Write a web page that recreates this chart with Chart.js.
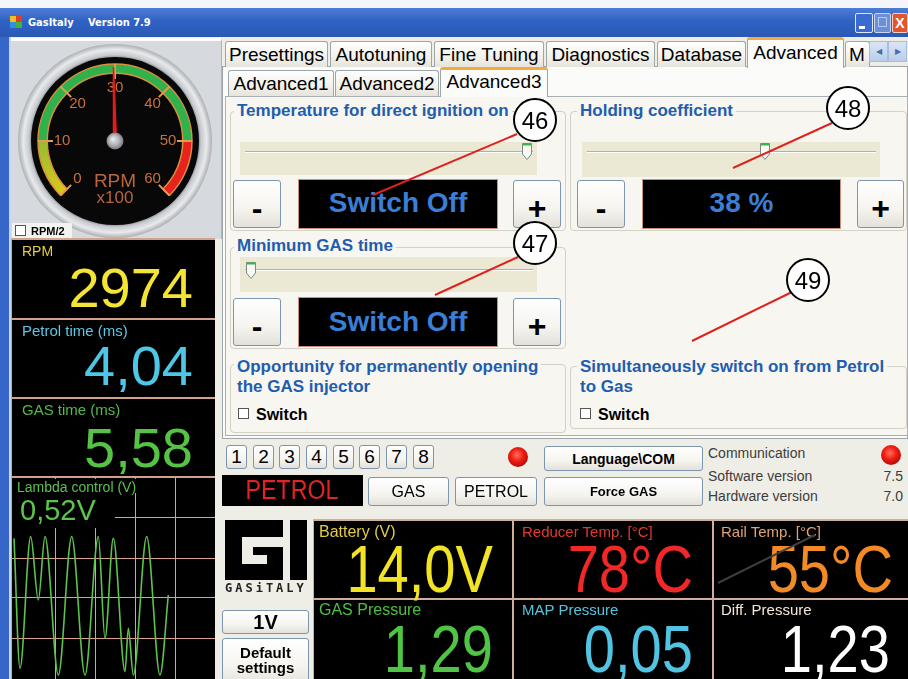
<!DOCTYPE html>
<html><head><meta charset="utf-8">
<title>GasItaly Version 7.9</title>
<script src="https://cdn.jsdelivr.net/npm/chart.js@4.4.1/dist/chart.umd.min.js"></script>
<style>
*{box-sizing:border-box}
html,body{margin:0;padding:0}
body{width:908px;height:679px;overflow:hidden;position:relative;background:#efeee6;font-family:'Liberation Sans',Arial,sans-serif;color:#000}
.a{position:absolute}
.btn{position:absolute;background:linear-gradient(#ffffff,#f5f4ef 60%,#e3e1d9);border:1px solid #7d95ae;border-radius:3px;display:flex;align-items:center;justify-content:center;color:#000;white-space:nowrap}
.pm{font-weight:bold;font-size:32px;line-height:32px;padding-top:8px}
.tab{position:absolute;top:41px;height:26px;padding-top:3px;border:1px solid #9ca6aa;border-bottom:none;border-radius:3px 3px 0 0;background:linear-gradient(#fefefe,#f3f2ec 55%,#e6e4dc);font-size:19px;line-height:19px;text-align:center;white-space:nowrap;overflow:hidden}
.tab.sel{top:37px;height:31px;padding-top:3px;background:#fbfbf9;border-top:3px solid #f2ac3c;z-index:3}
.tab.sub{top:70px;height:26px}
.tab.sub.sel{top:67px;height:30px;padding-top:2px}
.grp{position:absolute;border:1px solid #d3d2c6;border-radius:4px}
.gt{position:absolute;color:#1f5daf;font-weight:bold;font-size:17px;line-height:20px;background:#f7f6f1;padding:0 3px;white-space:nowrap}
.sl{position:absolute;background:#ebe9d4}
.disp{position:absolute;background:#000;border:1px solid #c8907a;color:#3b7ed6;font-weight:bold;font-size:28px;line-height:28px;text-align:center;white-space:nowrap}
.cell{position:absolute;background:#000;overflow:hidden}
.lab{position:absolute;font-size:15px;line-height:15px;white-space:nowrap}
.val{position:absolute;text-align:right;white-space:nowrap;font-size:56px;line-height:56px}
.val2{position:absolute;text-align:right;white-space:nowrap;font-size:66px;line-height:56px;transform:scaleX(0.85);transform-origin:right center}
.chk{position:absolute;width:11px;height:11px;border:1px solid #555;background:#fff}
.cbt{position:absolute;font-weight:bold;font-size:16px;line-height:16px}
.dig{top:445px;width:21px;height:24px;font-size:19px}
.led{position:absolute;width:20px;height:20px;border-radius:50%;background:radial-gradient(circle at 45% 40%,#ff7060 0,#f01c12 40%,#b00c08 75%,#703828 100%)}
.info{position:absolute;font-size:14px;line-height:14px;color:#3c3c3c;white-space:nowrap}
</style></head>
<body>
<!-- title bar -->
<div class="a" style="left:0;top:0;width:908px;height:8px;background:#f4f6fa"></div>
<div class="a" style="left:0;top:8px;width:908px;height:29px;background:linear-gradient(#4d7dd4,#3062c4 45%,#2b58b6)"></div>
<div class="a" style="left:10px;top:16px;width:6px;height:6px;background:#f0c020"></div>
<div class="a" style="left:16px;top:16px;width:6px;height:6px;background:#e04020"></div>
<div class="a" style="left:10px;top:22px;width:6px;height:6px;background:#3090e0"></div>
<div class="a" style="left:16px;top:22px;width:6px;height:6px;background:#40b040"></div>
<div class="a" style="left:28px;top:16px;color:#fff;font:bold 11px 'DejaVu Sans Condensed','Liberation Sans Narrow',sans-serif">GasItaly</div>
<div class="a" style="left:88px;top:16px;color:#fff;font:bold 11px 'DejaVu Sans Condensed','Liberation Sans Narrow',sans-serif">Version 7.9</div>
<div class="a" style="left:855px;top:13px;width:18px;height:20px;background:#3a6bd2;border:1px solid #dfe8f8;border-radius:2px"></div>
<div class="a" style="left:859px;top:26px;width:6px;height:3px;background:#fff"></div>
<div class="a" style="left:874px;top:13px;width:17px;height:20px;background:#6a90da;border:1px solid #c8d6f0;border-radius:2px"></div>
<div class="a" style="left:878px;top:17px;width:9px;height:10px;border:1px solid #b8c8ea"></div>
<div class="a" style="left:892px;top:13px;width:16px;height:20px;background:#e2552e;border:1px solid #f4d0c4;border-radius:2px;color:#fff;font:bold 14px 'Liberation Sans';line-height:18px;text-align:center">X</div>

<!-- left frame -->
<div class="a" style="left:0;top:37px;width:9px;height:642px;background:#3566c8"></div>
<div class="a" style="left:9px;top:37px;width:2px;height:642px;background:#c8d4ea"></div>

<!-- gauge panel -->
<div class="a" style="left:11px;top:38px;width:211px;height:201px;background:#d6dadf;border-top:3px solid #fff;border-right:1px solid #b0b4b8"></div>
<canvas id="gauge" class="a" width="200" height="200" style="left:15px;top:41px"></canvas>
<div class="a" style="left:12px;top:223px;width:60px;height:15px;background:#f2f2f0"></div>
<div class="chk" style="left:15px;top:225px"></div>
<div class="a" style="left:31px;top:225px;font:bold 11px 'Liberation Sans';line-height:12px">RPM/2</div>

<!-- left readouts -->
<div class="a" style="left:11px;top:238px;width:204px;height:441px;background:#d4a28c"></div>
<div class="cell" style="left:12px;top:240px;width:203px;height:78px"></div>
<div class="cell" style="left:12px;top:320px;width:203px;height:77px"></div>
<div class="cell" style="left:12px;top:399px;width:203px;height:77px"></div>
<div class="cell" style="left:12px;top:478px;width:203px;height:201px"></div>
<div class="lab" style="left:22px;top:244px;font-size:14px;color:#e6cc40">RPM</div>
<div class="val" style="left:12px;top:260px;width:181px;color:#f4e434">2974</div>
<div class="lab" style="left:22px;top:323px;color:#5ec8e2">Petrol time (ms)</div>
<div class="val" style="left:12px;top:338px;width:181px;color:#4ec6e6">4,04</div>
<div class="lab" style="left:22px;top:402px;color:#54ba48">GAS time (ms)</div>
<div class="val" style="left:12px;top:420px;width:181px;color:#56c246">5,58</div>
<canvas id="lambda" class="a" width="203" height="201" style="left:12px;top:478px"></canvas>
<div class="a" style="left:12px;top:479px;width:126px;height:14px;background:#000"></div>
<div class="lab" style="left:17px;top:480px;font-size:14px;line-height:14px;color:#5cc050">Lambda control (V)</div>
<div class="a" style="left:12px;top:493px;width:103px;height:35px;background:#000"></div>
<div class="a" style="left:20px;top:496px;font-size:29px;line-height:29px;color:#5cc44c;white-space:nowrap">0,52V</div>

<!-- tabs -->
<div class="a" style="left:222px;top:66px;width:686px;height:373px;background:#fbfbf9;border:1px solid #9ca6aa"></div>
<div class="tab" style="left:225px;width:103px">Presettings</div>
<div class="tab" style="left:330px;width:102px">Autotuning</div>
<div class="tab" style="left:434px;width:110px">Fine Tuning</div>
<div class="tab" style="left:546px;width:109px">Diagnostics</div>
<div class="tab" style="left:657px;width:89px">Database</div>
<div class="tab sel" style="left:747px;width:97px">Advanced</div>
<div class="tab" style="left:845px;width:25px;text-align:left;padding-left:3px">M</div>
<div class="a" style="left:869px;top:41px;width:19px;height:21px;background:linear-gradient(#dbe6f6,#b8cdea);border:1px solid #a8bcdc;color:#4a6ca8;font-size:8px;line-height:19px;text-align:center">&#9664;</div>
<div class="a" style="left:888px;top:41px;width:19px;height:21px;background:linear-gradient(#dbe6f6,#b8cdea);border:1px solid #a8bcdc;color:#4a6ca8;font-size:8px;line-height:19px;text-align:center">&#9654;</div>

<div class="a" style="left:225px;top:96px;width:683px;height:340px;background:#f7f6f1;border:1px solid #a8b0b4"></div>
<div class="tab sub" style="left:228px;width:106px">Advanced1</div>
<div class="tab sub" style="left:335px;width:104px">Advanced2</div>
<div class="tab sub sel" style="left:440px;width:108px">Advanced3</div>

<!-- group 1 -->
<div class="grp" style="left:230px;top:111px;width:336px;height:120px"></div>
<div class="gt" style="left:234px;top:101px">Temperature for direct ignition on</div>
<div class="sl" style="left:240px;top:142px;width:297px;height:33px"></div>
<div class="btn pm" style="left:233px;top:180px;width:48px;height:48px">-</div>
<div class="disp" style="left:298px;top:179px;width:200px;height:50px;padding-top:9px">Switch Off</div>
<div class="btn pm" style="left:513px;top:180px;width:48px;height:48px">+</div>

<!-- group 2 -->
<div class="grp" style="left:230px;top:247px;width:336px;height:102px"></div>
<div class="gt" style="left:234px;top:236px">Minimum GAS time</div>
<div class="sl" style="left:240px;top:257px;width:297px;height:35px"></div>
<div class="btn pm" style="left:233px;top:298px;width:48px;height:48px">-</div>
<div class="disp" style="left:298px;top:297px;width:200px;height:50px;padding-top:10px">Switch Off</div>
<div class="btn pm" style="left:513px;top:298px;width:48px;height:48px">+</div>

<!-- group 3 -->
<div class="grp" style="left:230px;top:364px;width:336px;height:69px"></div>
<div class="gt" style="left:234px;top:357px">Opportunity for permanently opening<br>the GAS injector</div>
<div class="chk" style="left:238px;top:408px"></div>
<div class="cbt" style="left:256px;top:407px">Switch</div>

<!-- group 4 -->
<div class="grp" style="left:570px;top:111px;width:337px;height:120px"></div>
<div class="gt" style="left:577px;top:101px">Holding coefficient</div>
<div class="sl" style="left:582px;top:142px;width:298px;height:35px"></div>
<div class="btn pm" style="left:577px;top:180px;width:48px;height:48px">-</div>
<div class="disp" style="left:642px;top:179px;width:199px;height:50px;padding-top:9px">38 %</div>
<div class="btn pm" style="left:857px;top:180px;width:47px;height:48px">+</div>

<!-- group 5 -->
<div class="grp" style="left:570px;top:366px;width:337px;height:63px"></div>
<div class="gt" style="left:577px;top:357px">Simultaneously switch on from Petrol<br>to Gas</div>
<div class="chk" style="left:580px;top:408px"></div>
<div class="cbt" style="left:598px;top:407px">Switch</div>

<!-- status area -->
<div class="btn dig" style="left:226px">1</div>
<div class="btn dig" style="left:253px">2</div>
<div class="btn dig" style="left:279px">3</div>
<div class="btn dig" style="left:306px">4</div>
<div class="btn dig" style="left:333px">5</div>
<div class="btn dig" style="left:359px">6</div>
<div class="btn dig" style="left:386px">7</div>
<div class="btn dig" style="left:413px">8</div>
<div class="led" style="left:508px;top:447px"></div>
<div class="btn" style="left:544px;top:446px;width:159px;height:25px;font-weight:bold;font-size:14px">Language\COM</div>
<div class="info" style="left:708px;top:446px">Communication</div>
<div class="led" style="left:881px;top:445px"></div>
<div class="info" style="left:708px;top:469px">Software version</div>
<div class="info" style="left:860px;top:469px;width:43px;text-align:right">7.5</div>
<div class="info" style="left:708px;top:489px">Hardware version</div>
<div class="info" style="left:860px;top:489px;width:43px;text-align:right">7.0</div>
<div class="a" style="left:222px;top:475px;width:141px;height:31px;background:#000;display:flex;align-items:center;justify-content:center"><span style="color:#e42424;font-size:27px;line-height:27px;transform:scaleX(0.86);display:inline-block">PETROL</span></div>
<div class="btn" style="left:368px;top:477px;width:81px;height:29px;font-size:16px">GAS</div>
<div class="btn" style="left:455px;top:477px;width:82px;height:29px;font-size:16px">PETROL</div>
<div class="btn" style="left:544px;top:477px;width:159px;height:29px;font-weight:bold;font-size:13px">Force GAS</div>

<!-- logo + buttons -->
<div class="a" style="left:225px;top:520px;width:58px;height:60px;background:#000"></div>
<div class="a" style="left:242px;top:537px;width:41px;height:10px;background:#efeee6"></div>
<div class="a" style="left:242px;top:547px;width:11px;height:8px;background:#efeee6"></div>
<div class="a" style="left:242px;top:555px;width:25px;height:9px;background:#efeee6"></div>
<div class="a" style="left:290px;top:520px;width:17px;height:60px;background:#000"></div>
<div class="a" style="left:225px;top:582px;font:bold 12px 'DejaVu Sans Mono',monospace;letter-spacing:3px;line-height:12px;color:#222">GASiTALY</div>
<div class="btn" style="left:222px;top:610px;width:87px;height:24px;font-weight:bold;font-size:20px">1V</div>
<div class="btn" style="left:222px;top:638px;width:87px;height:48px;font-weight:bold;font-size:15px;line-height:15px;text-align:center;align-items:flex-start;padding-top:6px">Default<br>settings</div>

<!-- bottom readouts -->
<div class="a" style="left:313px;top:519px;width:595px;height:160px;background:#cfae9c"></div>
<div class="cell" style="left:314px;top:521px;width:198px;height:77px"></div>
<div class="cell" style="left:514px;top:521px;width:198px;height:77px"></div>
<div class="cell" style="left:714px;top:521px;width:194px;height:77px"></div>
<div class="cell" style="left:314px;top:600px;width:198px;height:79px"></div>
<div class="cell" style="left:514px;top:600px;width:198px;height:79px"></div>
<div class="cell" style="left:714px;top:600px;width:194px;height:79px"></div>
<div class="lab" style="left:319px;top:524px;font-size:16px;line-height:16px;color:#e6cc44">Battery (V)</div>
<div class="val2" style="left:313px;top:541px;width:180px;color:#f2e424">14,0V</div>
<div class="lab" style="left:522px;top:524px;color:#e23a30">Reducer Temp. [°C]</div>
<div class="val2" style="left:513px;top:541px;width:180px;color:#f02828">78°C</div>
<div class="lab" style="left:721px;top:524px;color:#e2a272">Rail Temp. [°C]</div>
<div class="val2" style="left:713px;top:541px;width:180px;color:#f28a26">55°C</div>
<div class="lab" style="left:319px;top:602px;font-size:16px;line-height:16px;color:#4cc040">GAS Pressure</div>
<div class="val2" style="left:313px;top:621px;width:180px;color:#50c444">1,29</div>
<div class="lab" style="left:522px;top:602px;color:#58c4dc">MAP Pressure</div>
<div class="val2" style="left:513px;top:621px;width:180px;color:#50c4e2">0,05</div>
<div class="lab" style="left:721px;top:602px;color:#f4e6da">Diff. Pressure</div>
<div class="val2" style="left:710px;top:621px;width:180px;color:#ffffff">1,23</div>

<!-- sliders, callouts -->
<svg class="a" style="left:0;top:0;z-index:20;pointer-events:none" width="908" height="679" viewBox="0 0 908 679">
  <g>
    <line x1="245" y1="151.5" x2="533" y2="151.5" stroke="#a4b2bc" stroke-width="1"/>
    <line x1="245" y1="152.5" x2="533" y2="152.5" stroke="#ffffff" stroke-width="1"/>
    <line x1="245" y1="269.5" x2="533" y2="269.5" stroke="#a4b2bc" stroke-width="1"/>
    <line x1="245" y1="270.5" x2="533" y2="270.5" stroke="#ffffff" stroke-width="1"/>
    <line x1="587" y1="151.5" x2="876" y2="151.5" stroke="#a4b2bc" stroke-width="1"/>
    <line x1="587" y1="152.5" x2="876" y2="152.5" stroke="#ffffff" stroke-width="1"/>
    <polygon points="522.5,143.5 531.5,143.5 531.5,154 527,159.5 522.5,154" fill="#f8f8f4" stroke="#7c8a84"/>
    <line x1="523" y1="144.5" x2="531" y2="144.5" stroke="#3cb44a" stroke-width="2"/>
    <polygon points="246.5,262.5 255.5,262.5 255.5,273 251,278.5 246.5,273" fill="#f8f8f4" stroke="#7c8a84"/>
    <line x1="247" y1="263.5" x2="255" y2="263.5" stroke="#3cb44a" stroke-width="2"/>
    <polygon points="760.5,143.5 769.5,143.5 769.5,154 765,159.5 760.5,154" fill="#f8f8f4" stroke="#7c8a84"/>
    <line x1="761" y1="144.5" x2="769" y2="144.5" stroke="#3cb44a" stroke-width="2"/>
  </g>
  <g stroke="#e0201c" stroke-width="2">
    <line x1="517" y1="134" x2="373" y2="195"/>
    <line x1="518" y1="257" x2="435" y2="295"/>
    <line x1="832" y1="123" x2="733" y2="168"/>
    <line x1="792" y1="292" x2="692" y2="341"/>
  </g>
  <line x1="718" y1="583" x2="815" y2="535" stroke="#3e3e3e" stroke-width="2"/>
  <g fill="#fff" stroke="#000" stroke-width="2">
    <circle cx="535" cy="120" r="21"/>
    <circle cx="535" cy="243" r="21"/>
    <circle cx="848" cy="108" r="21"/>
    <circle cx="808" cy="280" r="21"/>
  </g>
  <g font-family="Liberation Sans, Arial" font-size="24" text-anchor="middle" fill="#000">
    <text x="535" y="128.5">46</text>
    <text x="535" y="251.5">47</text>
    <text x="848" y="116.5">48</text>
    <text x="808" y="288.5">49</text>
  </g>
</svg>

<script>
// RPM gauge (x100 rpm)
const rpmBands = [10, 40, 10];           // 0-10 low, 10-50 normal, 50-60 high
const rpmGap = 20;                        // unused bottom part of the dial
const rpmTicks = [0, 10, 20, 30, 40, 50, 60];
const rpmTickLabels = ['0', '10', '20', '30', '40', '50', '60'];
const rpmValue = 29.74;                   // 2974 rpm

// Lambda control trace (time divisions, volts)
const lambdaT = [-1.025, -0.875, -0.608, -0.417, -0.25, 0.083, 0.417, 0.75, 1.083, 1.25, 1.458, 1.75, 1.833, 1.958, 2.292, 2.625, 2.833];
const lambdaV = [0.698, 0.048, 0.707, 0.39, 0.707, 0.015, 0.707, 0.015, 0.707, 0.198, 0.698, 0.032, 0.248, 0.015, 0.707, 0.015, 0.415];
const lambdaGridT = [0, 1, 2, 3];
const lambdaGridV = [0.2, 0.4, 0.6, 0.8];

const gaugeDecor = {
  id: 'gaugeDecor',
  beforeDatasetsDraw(chart) {
    const ctx = chart.ctx, arc = chart.getDatasetMeta(0).data[0], cx = arc.x, cy = arc.y;
    ctx.save();
    const rg = ctx.createRadialGradient(cx, cy, 82, cx, cy, 98);
    rg.addColorStop(0, '#6e7276'); rg.addColorStop(0.25, '#c6c9cd');
    rg.addColorStop(0.6, '#e8eaec'); rg.addColorStop(1, '#a0a4a8');
    ctx.fillStyle = rg; ctx.beginPath(); ctx.arc(cx, cy, 97, 0, 2 * Math.PI); ctx.fill();
    ctx.fillStyle = '#080808'; ctx.beginPath(); ctx.arc(cx, cy, 84, 0, 2 * Math.PI); ctx.fill();
    ctx.restore();
  },
  afterDatasetsDraw(chart) {
    const ctx = chart.ctx, meta = chart.getDatasetMeta(0);
    const first = meta.data[0], last = meta.data[rpmBands.length - 1];
    const cx = first.x, cy = first.y, a0 = first.startAngle, a1 = last.endAngle;
    const span = rpmBands.reduce((s, v) => s + v, 0);
    const ang = v => a0 + (a1 - a0) * v / span;
    ctx.save();
    ctx.strokeStyle = '#e59a52'; ctx.lineWidth = 2;
    rpmTicks.forEach(v => {
      const a = ang(v);
      ctx.beginPath();
      ctx.moveTo(cx + 62 * Math.cos(a), cy + 62 * Math.sin(a));
      ctx.lineTo(cx + 77 * Math.cos(a), cy + 77 * Math.sin(a));
      ctx.stroke();
    });
    ctx.fillStyle = '#c8703e'; ctx.font = '15px "Liberation Sans", Arial';
    ctx.textAlign = 'center'; ctx.textBaseline = 'middle';
    rpmTicks.forEach((v, i) => {
      const a = ang(v);
      ctx.fillText(rpmTickLabels[i], cx + 53 * Math.cos(a), cy + 53 * Math.sin(a));
    });
    ctx.fillStyle = '#b8663e';
    ctx.font = '19px "Liberation Sans", Arial'; ctx.fillText('RPM', cx, cy + 41);
    ctx.font = '17px "Liberation Sans", Arial'; ctx.fillText('x100', cx, cy + 57);
    const an = ang(rpmValue), L = 74, px = -Math.sin(an), py = Math.cos(an);
    ctx.fillStyle = '#e3191b'; ctx.beginPath();
    ctx.moveTo(cx + 2.2 * px, cy + 2.2 * py);
    ctx.lineTo(cx + L * Math.cos(an) + 0.8 * px, cy + L * Math.sin(an) + 0.8 * py);
    ctx.lineTo(cx + L * Math.cos(an) - 0.8 * px, cy + L * Math.sin(an) - 0.8 * py);
    ctx.lineTo(cx - 2.2 * px, cy - 2.2 * py);
    ctx.closePath(); ctx.fill();
    const hg = ctx.createRadialGradient(cx - 2, cy - 2, 1, cx, cy, 9);
    hg.addColorStop(0, '#e4e6e8'); hg.addColorStop(0.6, '#a8acb0'); hg.addColorStop(1, '#6c7074');
    ctx.fillStyle = hg; ctx.beginPath(); ctx.arc(cx, cy, 8.5, 0, 2 * Math.PI); ctx.fill();
    ctx.restore();
  }
};

function bandColor(c) {
  const fixed = [null, '#2fb24c', '#e8221c', 'rgba(0,0,0,0)'];
  if (c.dataIndex !== 0) return fixed[c.dataIndex];
  const area = c.chart.chartArea;
  if (!area) return '#c8c020';
  const cx = (area.left + area.right) / 2, cy = (area.top + area.bottom) / 2;
  const g = c.chart.ctx.createLinearGradient(cx - 50, cy + 55, cx - 76, cy - 5);
  g.addColorStop(0, '#e2c818'); g.addColorStop(1, '#8cbc34');
  return g;
}

new Chart(document.getElementById('gauge'), {
  type: 'doughnut',
  data: {
    labels: ['low', 'normal', 'high', 'gap'],
    datasets: [{
      data: [...rpmBands, rpmGap],
      backgroundColor: bandColor,
      borderColor: ['#d8903c', '#d8903c', '#d8903c', 'rgba(0,0,0,0)'],
      borderWidth: [1.5, 1.5, 1.5, 0],
      borderAlign: 'center'
    }]
  },
  options: {
    responsive: false, animation: false, events: [],
    rotation: -135, circumference: 360, cutout: '88%', radius: 77,
    layout: { padding: 0 },
    plugins: { legend: { display: false }, tooltip: { enabled: false } }
  },
  plugins: [gaugeDecor]
});

const gridOpts = { color: '#dca28c', lineWidth: 1, drawTicks: false };
new Chart(document.getElementById('lambda'), {
  type: 'line',
  data: {
    datasets: [{
      data: lambdaT.map((t, i) => ({ x: t, y: lambdaV[i] })),
      borderColor: '#5ec24e', borderWidth: 1.6, pointRadius: 0, fill: false,
      cubicInterpolationMode: 'monotone'
    }]
  },
  options: {
    responsive: false, animation: false, events: [],
    layout: { padding: 0 },
    plugins: { legend: { display: false }, tooltip: { enabled: false } },
    scales: {
      x: { type: 'linear', min: -1.075, max: 4,
           afterBuildTicks: s => { s.ticks = lambdaGridT.map(v => ({ value: v })); },
           grid: gridOpts, border: { display: false }, ticks: { display: false } },
      y: { type: 'linear', min: -0.005, max: 1,
           afterBuildTicks: s => { s.ticks = lambdaGridV.map(v => ({ value: v })); },
           grid: gridOpts, border: { display: false }, ticks: { display: false } }
    }
  }
});
</script>
</body></html>
